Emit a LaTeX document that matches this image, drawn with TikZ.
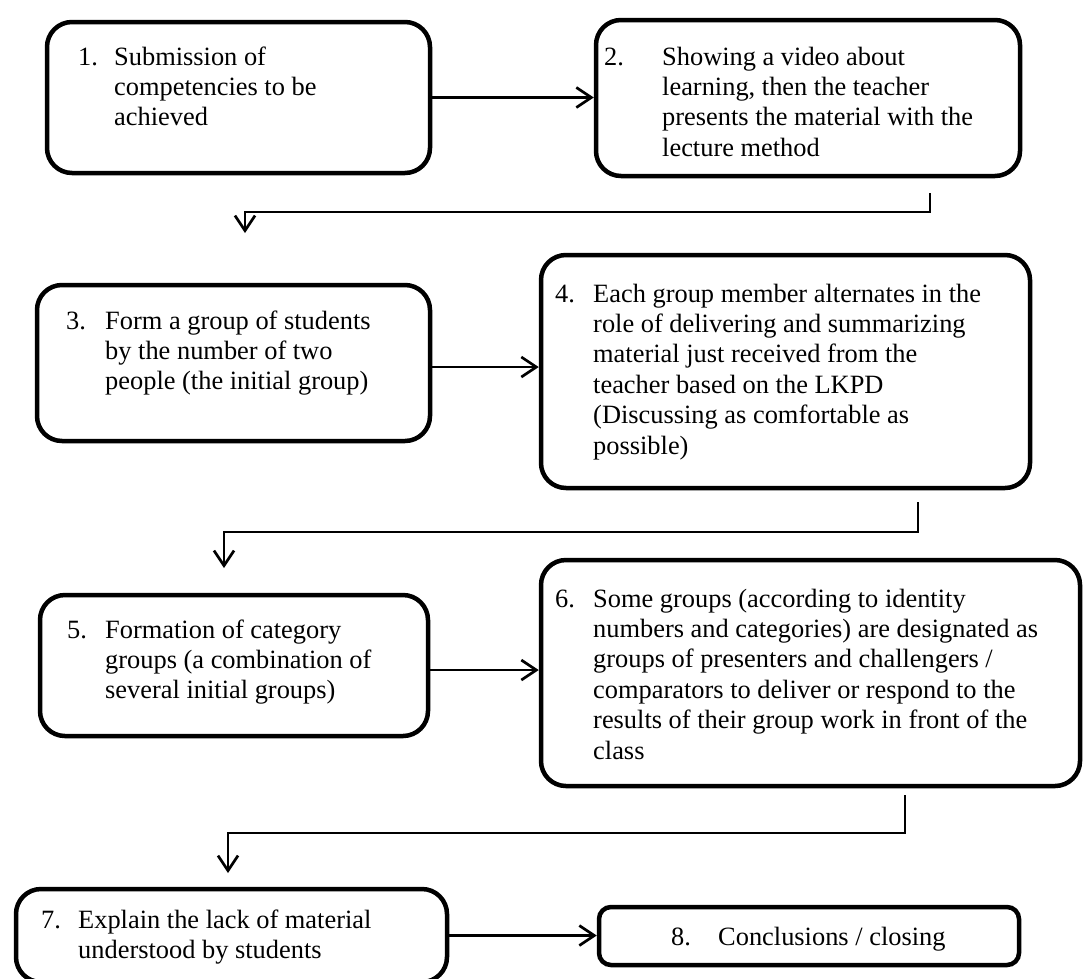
\documentclass[tikz,border=0pt]{standalone}
\usepackage{fontspec}
\setmainfont{Liberation Serif}
\usetikzlibrary{arrows.meta}
\newcommand{\stepitem}[3]{\makebox[#1][l]{#2}\begin{tabular}[t]{@{}l@{}}#3\end{tabular}}

\begin{document}
\begin{tikzpicture}[x=1pt,y=-1pt,
  stepbox/.style={draw,line width=4.5pt,rounded corners=25pt,inner sep=0pt},
  steptext/.style={anchor=base west,inner sep=0pt,font=\fontsize{26.4}{30.4}\selectfont},
  flow/.style={line width=2.7pt,-{Straight Barb[length=15pt,width=20pt]}}]
\useasboundingbox (0,0) rectangle (1083,978);
\node[stepbox,minimum width=383pt,minimum height=151pt] (s1) at (238.5,97.5) {};
\node[stepbox,minimum width=424pt,minimum height=156pt] (s2) at (808,98) {};
\node[stepbox,minimum width=393pt,minimum height=156pt] (s3) at (233.5,363) {};
\node[stepbox,minimum width=489pt,minimum height=233pt] (s4) at (785.5,371.5) {};
\node[stepbox,minimum width=388pt,minimum height=141pt] (s5) at (234,665.5) {};
\node[stepbox,minimum width=539pt,minimum height=226pt] (s6) at (810.5,673) {};
\node[stepbox,minimum width=431pt,minimum height=93pt] (s7) at (231.5,935.5) {};
\node[stepbox,rounded corners=12pt,minimum width=420pt,minimum height=58pt] (s8) at (809,936) {};
\node[steptext] (t1) at (78,65) {\stepitem{36pt}{1.}{Submission of\\competencies to be\\achieved}};
\node[steptext] (t2) at (604,65) {\stepitem{58pt}{2.}{Showing a video about\\learning, then the teacher\\presents the material with the\\lecture method}};
\node[steptext] (t3) at (66,329) {\stepitem{39pt}{3.}{Form a group of students\\by the number of two\\people (the initial group)}};
\node[steptext] (t4) at (555,302) {\stepitem{38pt}{4.}{Each group member alternates in the\\role of delivering and summarizing\\material just received from the\\teacher based on the LKPD\\(Discussing as comfortable as\\possible)}};
\node[steptext] (t5) at (67,638) {\stepitem{38pt}{5.}{Formation of category\\groups (a combination of\\several initial groups)}};
\node[steptext] (t6) at (555,607) {\stepitem{38pt}{6.}{Some groups (according to identity\\numbers and categories) are designated as\\groups of presenters and challengers /\\comparators to deliver or respond to the\\results of their group work in front of the\\class}};
\node[steptext] (t7) at (41,928) {\stepitem{37pt}{7.}{Explain the lack of material\\understood by students}};
\node[steptext] (t8) at (671,945) {\stepitem{47pt}{8.}{Conclusions / closing}};
\coordinate (a2) at (930,193);
\coordinate (b3) at (245,233);
\coordinate (a4) at (918,502);
\coordinate (b5) at (224,568);
\coordinate (a6) at (905,795);
\coordinate (b7) at (228,873);
\draw[flow] (s1.east) -- (s1.east -| s2.west);
\draw[flow] (a2) -- ++(0,19) -| (b3);
\draw[flow] ([yshift=-4pt]s3.east) -- ([yshift=-4pt]s3.east -| s4.west);
\draw[flow] (a4) -- ++(0,30) -| (b5);
\draw[flow] ([yshift=-4.5pt]s5.east) -- ([yshift=-4.5pt]s5.east -| s6.west);
\draw[flow] (a6) -- ++(0,38) -| (b7);
\draw[flow] (s7.east) -- (s7.east -| s8.west);
\end{tikzpicture}
\end{document}
